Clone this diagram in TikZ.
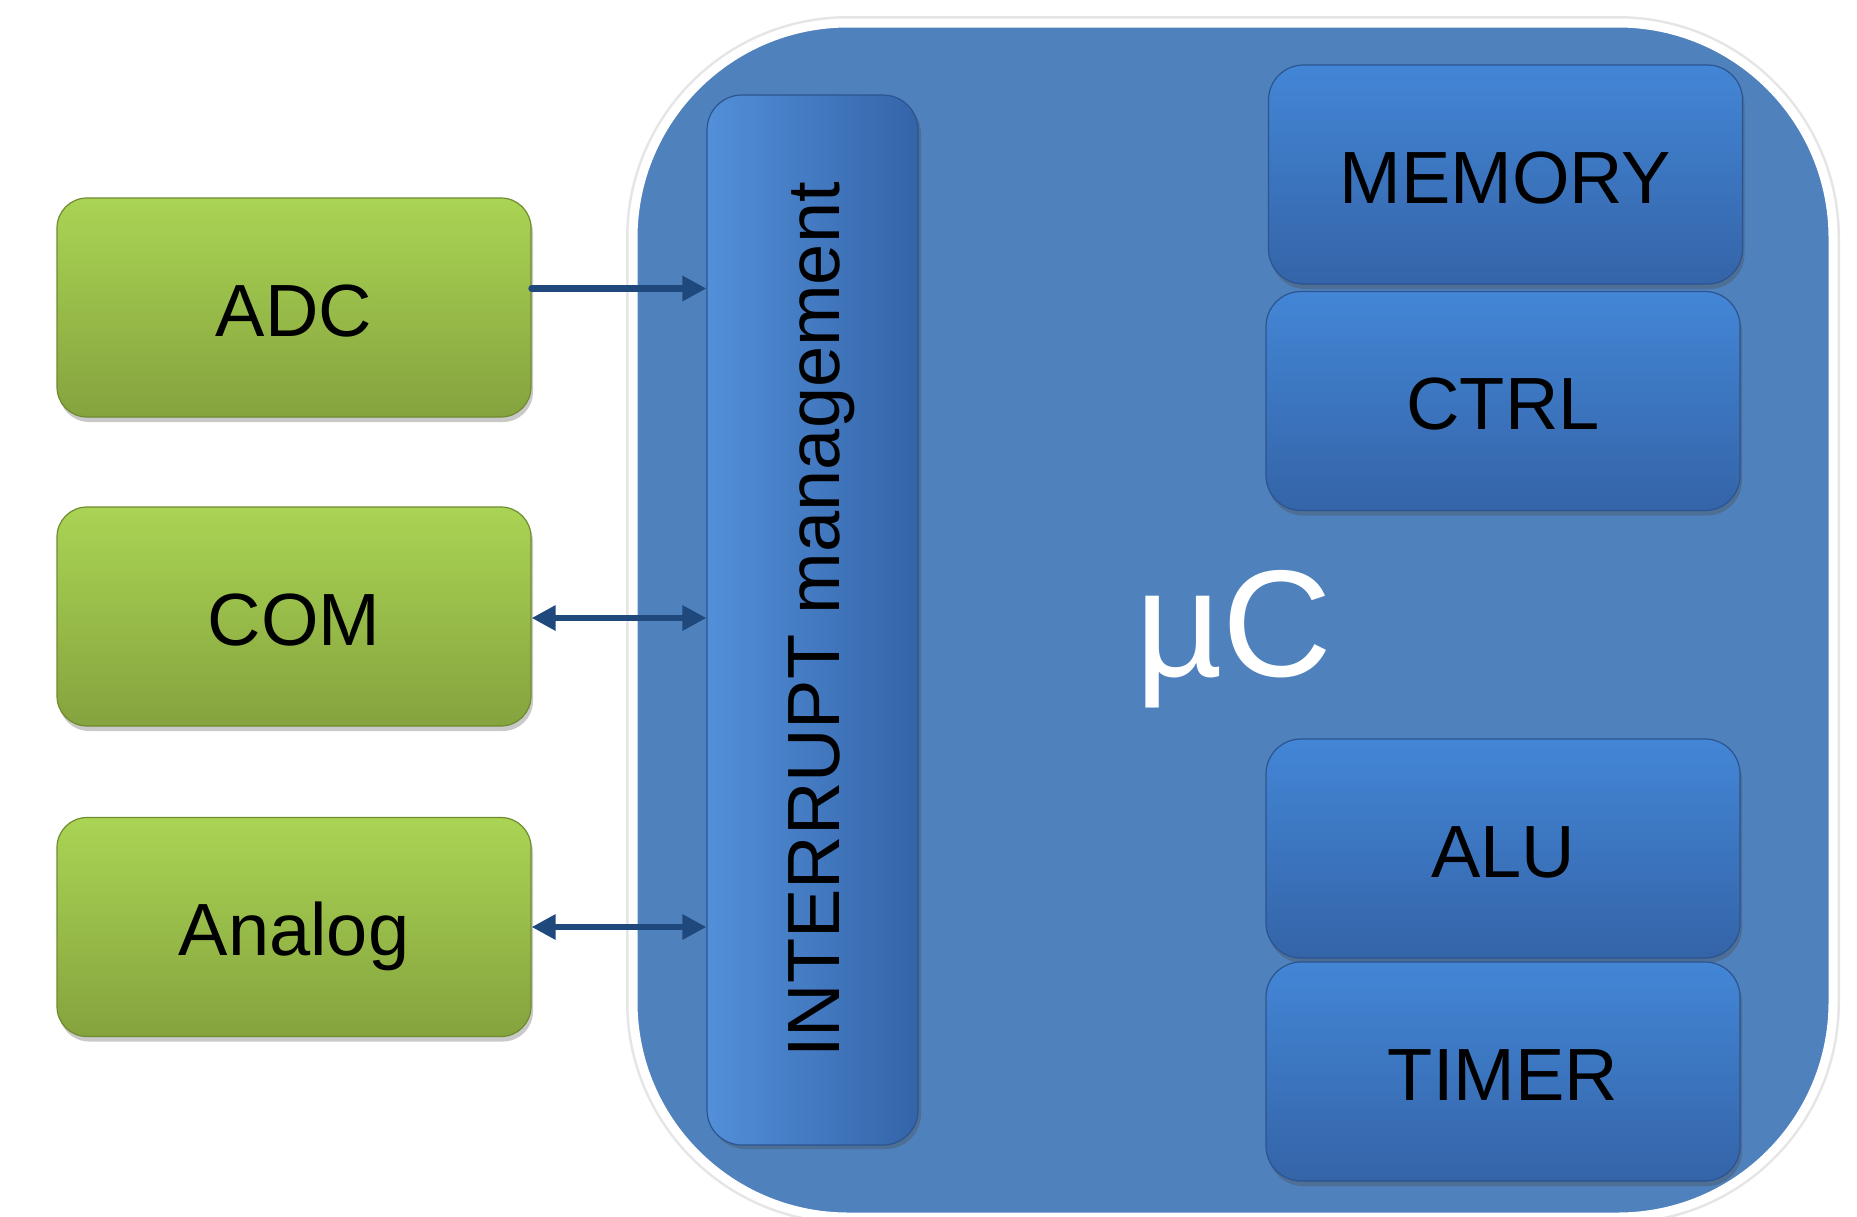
\documentclass[tikz,border=0pt]{standalone}
\usepackage{fontspec}
\setmainfont{Liberation Sans}
\usetikzlibrary{arrows.meta,shadows,shadings}
\definecolor{ucblue}{HTML}{4F81BD}
\definecolor{gtop}{HTML}{AAD454}
\definecolor{gbot}{HTML}{85A33E}
\definecolor{gline}{HTML}{6F8B30}
\definecolor{btop}{HTML}{4386D6}
\definecolor{bbot}{HTML}{3464A8}
\definecolor{bline}{HTML}{2B5490}
\definecolor{arrowc}{HTML}{1F497D}
\begin{document}
\begin{tikzpicture}[x=1pt,y=-1pt,
  boxfont/.style={font=\fontsize{74}{88}\selectfont, text height=57pt, text depth=0pt},
  greenbox/.style={boxfont, rounded corners=30pt, top color=gtop, bottom color=gbot,
    draw=gline, line width=1.2pt, minimum width=474pt, minimum height=219pt, inner sep=0pt,
    drop shadow={shadow xshift=2pt, shadow yshift=-5pt, opacity=0.35, fill=black!60}},
  bluebox/.style={boxfont, rounded corners=35pt, top color=btop, bottom color=bbot,
    draw=bline, line width=1.2pt, minimum width=474pt, minimum height=219pt, inner sep=0pt,
    drop shadow={shadow xshift=2pt, shadow yshift=-5pt, opacity=0.35, fill=black!70}},
  conn/.style={draw=arrowc, line width=6.5pt},
  tip/.style={Triangle[length=24pt,width=24pt]}
]
\useasboundingbox (0,0) rectangle (1857,1216);
\fill[white] (0,0) rectangle (1857,1216);
% microcontroller body
\node[rounded corners=215pt, fill=ucblue, draw=white, line width=9pt,
  preaction={draw=black!10, line width=14pt},
  minimum width=1200pt, minimum height=1194pt, inner sep=0pt] (uc) at (1233,620) {};
\node[text=white, font=\fontsize{152}{170}\selectfont, text height=109pt, text depth=0pt,
  inner sep=0pt] (uclabel) at (1234,622) {µC};
% peripherals
\node[greenbox] (adc) at (294,307.5) {ADC};
\node[greenbox] (com) at (294,616.5) {COM};
\node[greenbox] (ana) at (294,927) {Analog};
% interrupt management
\node[font=\fontsize{74}{88}\selectfont, text height=53pt, text depth=0pt,
  rotate=90, rounded corners=35pt, left color=btop!92!white, right color=bbot,
  draw=bline, line width=1.2pt, minimum width=1050pt, minimum height=211pt, inner sep=0pt,
  drop shadow={shadow xshift=3pt, shadow yshift=-4pt, opacity=0.35, fill=black!70}]
  (intr) at (812.5,620) {INTERRUPT management};
% internal blocks
\node[bluebox] (mem) at (1505.5,174.5) {MEMORY};
\node[bluebox] (ctrl) at (1503,401) {CTRL};
\node[bluebox] (alu) at (1503,848.5) {ALU};
\node[bluebox] (tim) at (1503,1071.5) {TIMER};
% connectors
\draw[conn, line cap=round, -{Triangle[length=24pt,width=24pt]}]
  ([yshift=19pt]adc.east) -- ([yshift=19pt]adc.east -| intr.north);
\draw[conn, {Triangle[length=24pt,width=24pt]}-{Triangle[length=24pt,width=24pt]}]
  ([yshift=-1.5pt]com.east) -- ([yshift=-1.5pt]com.east -| intr.north);
\draw[conn, {Triangle[length=24pt,width=24pt]}-{Triangle[length=24pt,width=24pt]}]
  (ana.east) -- (ana.east -| intr.north);
\end{tikzpicture}
\end{document}
